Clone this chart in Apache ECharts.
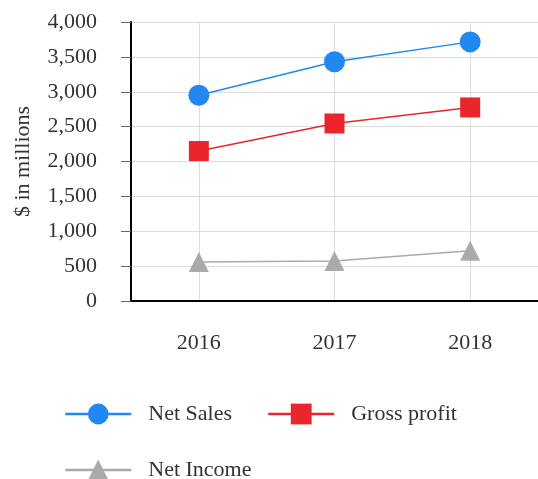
<!DOCTYPE html>
<html>
<head>
<meta charset="utf-8">
<script src="https://cdn.jsdelivr.net/npm/echarts@6/dist/echarts.min.js"></script>
<style>
html, body { margin: 0; padding: 0; background: #fff; }
#chart { width: 538px; height: 479px; }
</style>
</head>
<body>
<div id="chart"></div>
<script>
const years = ['2016', '2017', '2018'];
const netSales = [2950, 3430, 3715];
const grossProfit = [2150, 2545, 2775];
const netIncome = [560, 575, 720];

const font = '"Liberation Serif", "Times New Roman", serif';
const chart = echarts.init(document.getElementById('chart'));

function lineSerie(name, data, color, symbol, size) {
    return {
        name: name,
        type: 'line',
        data: data,
        symbol: symbol,
        symbolSize: size,
        lineStyle: { color: color, width: 1.5 },
        itemStyle: { color: color },
        emphasis: { disabled: true }
    };
}

chart.setOption({
    backgroundColor: '#ffffff',
    animation: false,
    grid: { left: 131, right: 0, top: 22, bottom: 178 },
    xAxis: {
        type: 'category',
        data: years,
        boundaryGap: true,
        axisLine: { lineStyle: { color: '#000', width: 2 } },
        axisTick: { alignWithLabel: true, length: 10, lineStyle: { color: '#333' } },
        axisLabel: { color: '#333', fontFamily: font, fontSize: 22, margin: 31 },
        splitLine: { show: true, alignWithLabel: true, lineStyle: { color: '#ddd' } }
    },
    yAxis: {
        type: 'value',
        min: 0,
        max: 4000,
        interval: 500,
        name: '$ in millions',
        nameLocation: 'middle',
        nameGap: 97,
        nameTextStyle: { color: '#333', fontFamily: font, fontSize: 22 },
        axisLine: { show: true, lineStyle: { color: '#000', width: 2 } },
        axisTick: { show: true, length: 10, lineStyle: { color: '#666' } },
        axisLabel: {
            color: '#333', fontFamily: font, fontSize: 22, margin: 34,
            formatter: v => v.toLocaleString('en-US')
        },
        splitLine: { show: true, lineStyle: { color: '#ddd' } }
    },
    legend: {
        left: 59,
        top: 398,
        width: 440,
        itemWidth: 66,
        itemHeight: 26,
        itemGap: 34,
        lineStyle: { width: 2.5 },
        textStyle: {
            color: '#333', fontFamily: font, fontSize: 22, lineHeight: 20,
            padding: [0, 1, 0, 12]
        },
        data: ['Net Sales', 'Gross profit', 'Net Income']
    },
    series: [
        lineSerie('Net Sales', netSales, '#2188f2', 'circle', 21),
        lineSerie('Gross profit', grossProfit, '#e8262b', 'rect', 20),
        lineSerie('Net Income', netIncome, '#aaaaaa', 'triangle', 20)
    ]
});
</script>
</body>
</html>
